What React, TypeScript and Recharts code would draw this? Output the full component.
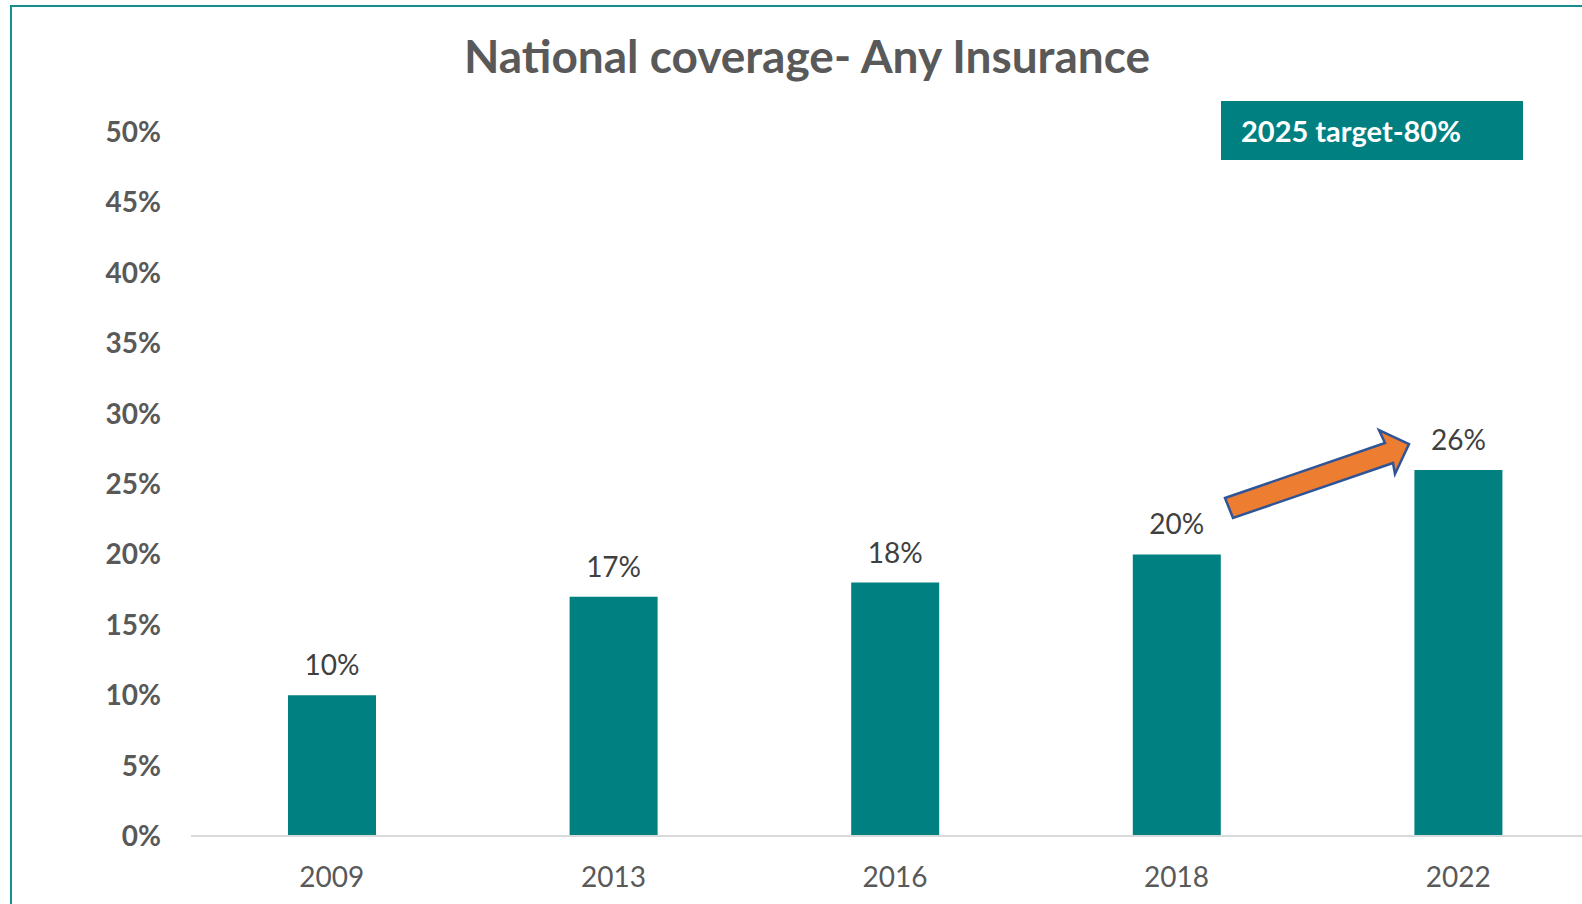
import { BarChart, Bar, XAxis, YAxis, LabelList } from "recharts";

const years = ["2009", "2013", "2016", "2018", "2022"];
const coverage = [0.1, 0.17, 0.18, 0.2, 0.26];
const yTicks = [0, 0.05, 0.1, 0.15, 0.2, 0.25, 0.3, 0.35, 0.4, 0.45, 0.5];

const TEAL = "#008080";
const FONT = "Lato, 'Noto Sans', sans-serif";
const pct = (v: number) => `${Math.round(v * 100)}%`;

export default function App() {
  const data = years.map((y, i) => ({ year: y, value: coverage[i] }));
  return (
    <div style={{ position: "fixed", left: 0, top: 0, width: 1582, height: 904, overflow: "hidden", background: "#fff", fontFamily: FONT }}>
      <div style={{ position: "absolute", left: 10, top: 5, width: 1700, height: 1000, border: "2px solid #178e8e" }} />
      <div style={{ position: "absolute", left: 0, width: 1614, top: 28, textAlign: "center", fontSize: 46, fontWeight: 700, color: "#595959", lineHeight: "56px" }}>
        National coverage- Any Insurance
      </div>
      <BarChart width={1599} height={904} data={data} margin={{ top: 132, right: 0, bottom: 0, left: 0 }} style={{ position: "absolute", left: 0, top: 0 }}>
        <XAxis dataKey="year" height={68} tickLine={false} tickSize={0} tickMargin={31} axisLine={{ stroke: "#d9d9d9", strokeWidth: 2 }} tick={{ fill: "#595959", fontSize: 28, fontFamily: FONT }} />
        <YAxis domain={[0, 0.5]} ticks={yTicks} width={191} axisLine={false} tickLine={false} tickSize={0} tickMargin={30} tickFormatter={pct} tick={{ fill: "#595959", fontSize: 28, fontWeight: 700, fontFamily: FONT }} />
        <Bar dataKey="value" fill={TEAL} barSize={88} isAnimationActive={false}>
          <LabelList dataKey="value" position="top" offset={20} formatter={(v: number) => pct(v)} style={{ fill: "#404040", fontSize: 28, fontFamily: FONT }} />
        </Bar>
      </BarChart>
      <div style={{ position: "absolute", left: 1221, top: 101, width: 302, height: 59, background: TEAL, color: "#fff", fontSize: 29, fontWeight: 700, lineHeight: "59px", boxSizing: "border-box", paddingLeft: 20 }}>
        2025 target-80%
      </div>
      <svg width={1582} height={904} style={{ position: "absolute", left: 0, top: 0, pointerEvents: "none" }}>
        <polygon points="1225,498 1385,443 1379,430 1409,444 1395,474 1393,463 1233,518" fill="#ED7D31" stroke="#2F5597" strokeWidth={2.5} strokeLinejoin="miter" />
      </svg>
    </div>
  );
}
